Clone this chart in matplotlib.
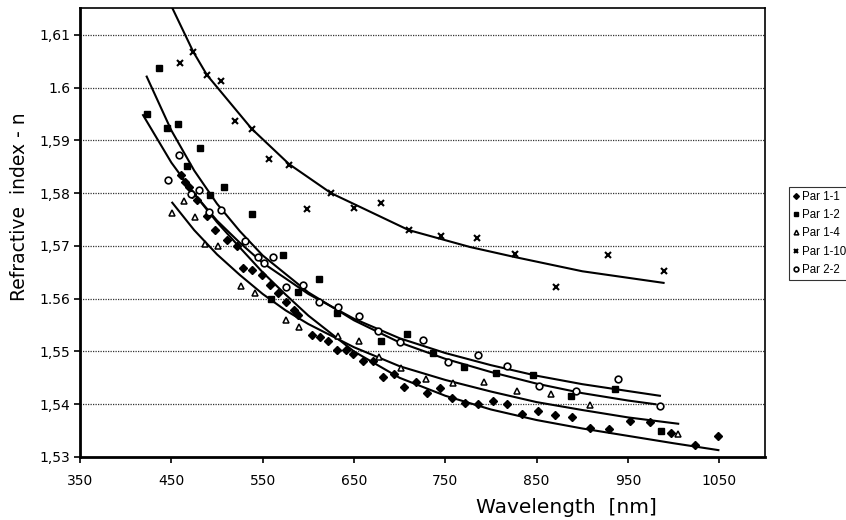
import matplotlib
matplotlib.use("Agg")
import matplotlib.pyplot as plt

par11_wl = [461, 465, 469, 473, 478, 489, 498, 511, 522, 529, 538, 549, 558, 567, 576,
            584, 589, 604, 613, 622, 631, 641, 649, 660, 671, 682, 694, 705, 718, 730,
            744, 757, 771, 786, 802, 818, 834, 851, 870, 889, 908, 929, 952, 974, 997,
            1023, 1049]
par11_n = [1.5835, 1.5822, 1.5812, 1.5799, 1.5787, 1.5756, 1.5730, 1.5711, 1.5699, 1.5658,
           1.5655, 1.5645, 1.5626, 1.5610, 1.5594, 1.5579, 1.5569, 1.5531, 1.5528, 1.5519,
           1.5502, 1.5502, 1.5495, 1.5481, 1.5481, 1.5451, 1.5457, 1.5433, 1.5442, 1.5421,
           1.5431, 1.5412, 1.5402, 1.5400, 1.5406, 1.5400, 1.5382, 1.5387, 1.5380, 1.5375,
           1.5354, 1.5353, 1.5369, 1.5366, 1.5346, 1.5322, 1.5340]

par12_wl = [423, 436, 445, 457, 467, 481, 492, 508, 538, 559, 572, 589, 612, 631, 680,
            708, 737, 770, 805, 846, 888, 936, 986]
par12_n = [1.5950, 1.6037, 1.5924, 1.5931, 1.5852, 1.5886, 1.5797, 1.5812, 1.5761, 1.5600,
           1.5683, 1.5613, 1.5637, 1.5572, 1.5519, 1.5534, 1.5498, 1.5470, 1.5460, 1.5455,
           1.5416, 1.5428, 1.5349]

par14_wl = [451, 464, 476, 487, 501, 526, 542, 575, 590, 632, 655, 677, 702, 729, 758,
            792, 828, 866, 908, 1005]
par14_n = [1.5762, 1.5785, 1.5755, 1.5704, 1.5700, 1.5624, 1.5610, 1.5560, 1.5547, 1.5529,
           1.5519, 1.5490, 1.5468, 1.5448, 1.5441, 1.5443, 1.5425, 1.5419, 1.5399, 1.5343]

par110_wl = [460, 474, 489, 504, 520, 538, 557, 579, 599, 625, 650, 680, 710, 745, 785,
             826, 871, 928, 989]
par110_n = [1.6047, 1.6068, 1.6024, 1.6013, 1.5937, 1.5922, 1.5865, 1.5854, 1.5770, 1.5800,
            1.5772, 1.5782, 1.5730, 1.5719, 1.5715, 1.5685, 1.5622, 1.5683, 1.5653]

par22_wl = [446, 458, 472, 480, 491, 504, 531, 545, 551, 561, 576, 594, 612, 632, 655,
            676, 700, 726, 753, 786, 818, 853, 893, 939, 985]
par22_n = [1.5825, 1.5873, 1.5798, 1.5806, 1.5765, 1.5768, 1.5710, 1.5679, 1.5668, 1.5679,
           1.5623, 1.5626, 1.5594, 1.5584, 1.5567, 1.5538, 1.5517, 1.5521, 1.5480, 1.5493,
           1.5473, 1.5435, 1.5425, 1.5448, 1.5397]

# fitted curves as they appear on the scan
fit110_wl = [448, 474, 489, 538, 579, 625, 710, 777, 826, 900, 989]
fit110_n = [1.6162, 1.6068, 1.6024, 1.5922, 1.5855, 1.5800, 1.5730, 1.5698, 1.5679, 1.5652, 1.5630]

fit12_wl = [423, 450, 475, 500, 525, 550, 600, 650, 700, 750, 800, 850, 900, 950, 980]
fit12_n = [1.6021, 1.5919, 1.5843, 1.5780, 1.5728, 1.5682, 1.5612, 1.5559, 1.5517, 1.5486,
           1.5461, 1.5439, 1.5421, 1.5407, 1.5400]

fit22_wl = [419, 450, 475, 500, 525, 550, 600, 650, 700, 750, 800, 850, 900, 950, 985]
fit22_n = [1.5948, 1.5858, 1.5799, 1.5748, 1.5706, 1.5668, 1.5609, 1.5562, 1.5525, 1.5497,
           1.5474, 1.5454, 1.5438, 1.5425, 1.5416]

fit14_wl = [451, 475, 500, 525, 550, 575, 600, 650, 700, 750, 800, 850, 900, 950, 1005]
fit14_n = [1.5782, 1.5730, 1.5684, 1.5645, 1.5609, 1.5578, 1.5552, 1.5508, 1.5472, 1.5446,
           1.5424, 1.5404, 1.5389, 1.5375, 1.5363]

fit11_wl = [461, 480, 500, 525, 550, 575, 600, 650, 700, 750, 800, 850, 900, 950, 1000, 1049]
fit11_n = [1.5830, 1.5788, 1.5745, 1.5697, 1.5650, 1.5608, 1.5568, 1.5500, 1.5450, 1.5416,
           1.5390, 1.5370, 1.5354, 1.5340, 1.5326, 1.5313]

x_ticks = [350, 450, 550, 650, 750, 850, 950, 1050]
y_ticks = [1.53, 1.54, 1.55, 1.56, 1.57, 1.58, 1.59, 1.60, 1.61]
y_labels = ["1,53", "1,54", "1,55", "1.56", "1,57", "1,58", "1,59", "1.6", "1,61"]

plt.rcParams['font.family'] = ['DejaVu Sans']

fig = plt.figure(figsize=(8.46, 5.2), dpi=100)
ax = fig.add_axes([0.0946, 0.1212, 0.8096, 0.8634])

for yv in y_ticks[1:]:
    ax.axhline(yv, color='#333333', lw=0.9, ls=(0, (1, 1)), zorder=1)

for wl, n in [(fit110_wl, fit110_n), (fit12_wl, fit12_n), (fit22_wl, fit22_n),
              (fit14_wl, fit14_n), (fit11_wl, fit11_n)]:
    ax.plot(wl, n, color='black', lw=1.5, zorder=2)

ax.plot(par11_wl, par11_n, 'D', color='black', ms=4.2, ls='none', label='Par 1-1', zorder=3)
ax.plot(par12_wl, par12_n, 's', color='black', ms=4.5, ls='none', label='Par 1-2', zorder=3)
ax.plot(par14_wl, par14_n, '^', mfc='white', mec='black', mew=1.1, ms=4.8, ls='none',
        label='Par 1-4', zorder=3)
ax.plot(par110_wl, par110_n, 'x', color='black', mew=1.5, ms=5, ls='none',
        label='Par 1-10', zorder=3)
ax.plot(par22_wl, par22_n, 'o', mfc='white', mec='black', mew=1.2, ms=4.8, ls='none',
        label='Par 2-2', zorder=3)

ax.set_xlim(350, 1100)
ax.set_ylim(1.53, 1.6151)
ax.set_xticks(x_ticks)
ax.set_yticks(y_ticks)
ax.set_yticklabels(y_labels)
ax.tick_params(axis='both', direction='out', length=4, width=1.2, labelsize=10, colors='black')
ax.tick_params(axis='x', pad=8)
ax.tick_params(axis='y', pad=3)

ax.spines['left'].set_linewidth(2.0)
ax.spines['bottom'].set_linewidth(2.0)
ax.spines['top'].set_linewidth(1.2)
ax.spines['right'].set_linewidth(1.2)

ax.set_ylabel('Refractive  index - n', fontsize=13.5)
ax.yaxis.set_label_coords(-0.075, 0.557)
fig.text(0.669, 0.006, 'Wavelength  [nm]', fontsize=14.5, ha='center', va='bottom')

leg = fig.legend(loc='upper left', bbox_to_anchor=(0.9326, 0.641),
                 prop={'family': 'Liberation Sans', 'size': 8.3},
                 frameon=True, fancybox=False, shadow=False, handlelength=0.6,
                 handletextpad=0.15, labelspacing=0.55, borderpad=0.35, borderaxespad=0,
                 markerscale=0.7)
leg.get_frame().set_edgecolor('black')
leg.get_frame().set_linewidth(0.8)

fig.savefig('out.png', dpi=100)
